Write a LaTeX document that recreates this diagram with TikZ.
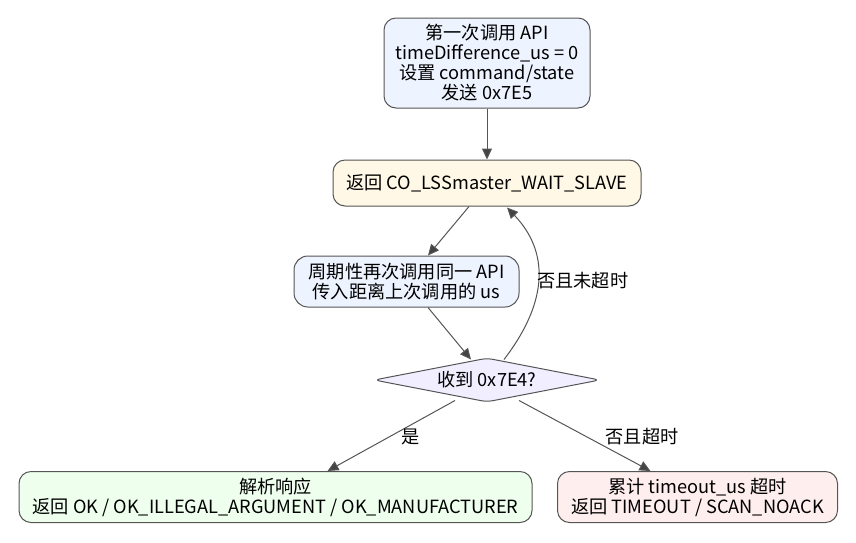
\documentclass[tikz,border=0pt]{standalone}
\usepackage{fontspec}
\setmainfont{Noto Sans CJK SC}
\usetikzlibrary{shapes.geometric,arrows.meta,calc}
\definecolor{lineC}{HTML}{555555}
\definecolor{tipC}{HTML}{444444}
\definecolor{blueF}{HTML}{EEF4FF}
\definecolor{yellowF}{HTML}{FFF8E6}
\definecolor{violetF}{HTML}{F1EEFF}
\definecolor{greenF}{HTML}{EEFFEE}
\definecolor{redF}{HTML}{FFEEEE}
\begin{document}
\begin{tikzpicture}[x=1pt,y=-1pt,
  every node/.style={font=\fontsize{18.2}{20}\selectfont, text=black},
  box/.style={draw=lineC, line width=1pt, rounded corners=12pt, align=center, inner sep=0pt},
  dia/.style={draw=lineC, line width=1pt, diamond, aspect=5, inner sep=0pt, rounded corners=6pt, fill=violetF},
  conn/.style={draw=lineC, line width=1pt, -{Triangle[length=11pt,width=10pt,fill=tipC]}},
  lbl/.style={inner sep=1pt}]
\useasboundingbox (0,0) rectangle (856,542);
\node[box, fill=blueF, minimum width=206pt, minimum height=90pt] (a) at (487,63)
  {第一次调用 API\\timeDifference\_us = 0\\设置 command/state\\发送 0x7E5};
\node[box, fill=yellowF, minimum width=308pt, minimum height=46pt] (b) at (487,183)
  {返回 CO\_LSSmaster\_WAIT\_SLAVE};
\node[box, fill=blueF, rounded corners=14pt, minimum width=225pt, minimum height=51pt] (c) at (406.5,281.5)
  {周期性再次调用同一 API\\传入距离上次调用的 us};
\node[dia, minimum width=226pt, minimum height=44pt] (d) at (487,380) {收到 0x7E4?};
\node[box, fill=greenF, minimum width=513pt, minimum height=51pt] (e) at (275.5,497)
  {解析响应\\返回 OK / OK\_ILLEGAL\_ARGUMENT / OK\_MANUFACTURER};
\node[box, fill=redF, minimum width=280pt, minimum height=51pt] (f) at (697.5,497)
  {累计 timeout\_us 超时\\返回 TIMEOUT / SCAN\_NOACK};

\draw[conn] (a.south) -- (b.north);
\draw[conn] ($(b.south)+(-18,0)$) -- ($(c.north)+(21.5,0)$);
\draw[conn] ($(c.south)+(21.5,0)$) -- ($(d.north)+(-16,2)$);
\draw[conn] ($(d.north)+(17,2)$) .. controls ($(d.north)+(63,-58)$) and ($(b.south)+(61,44)$) .. ($(b.south)+(20,1)$);
\node[lbl, anchor=west] (l1) at (536,281) {否且未超时};
\draw[conn] ($(d.south)+(-32,-2)$) -- ($(e.north)+(52,0)$);
\node[lbl] (l2) at (411,437) {是};
\draw[conn] ($(d.south)+(32,-2)$) -- ($(f.north)+(-47,0)$);
\node[lbl] (l3) at (642,437) {否且超时};
\end{tikzpicture}
\end{document}
